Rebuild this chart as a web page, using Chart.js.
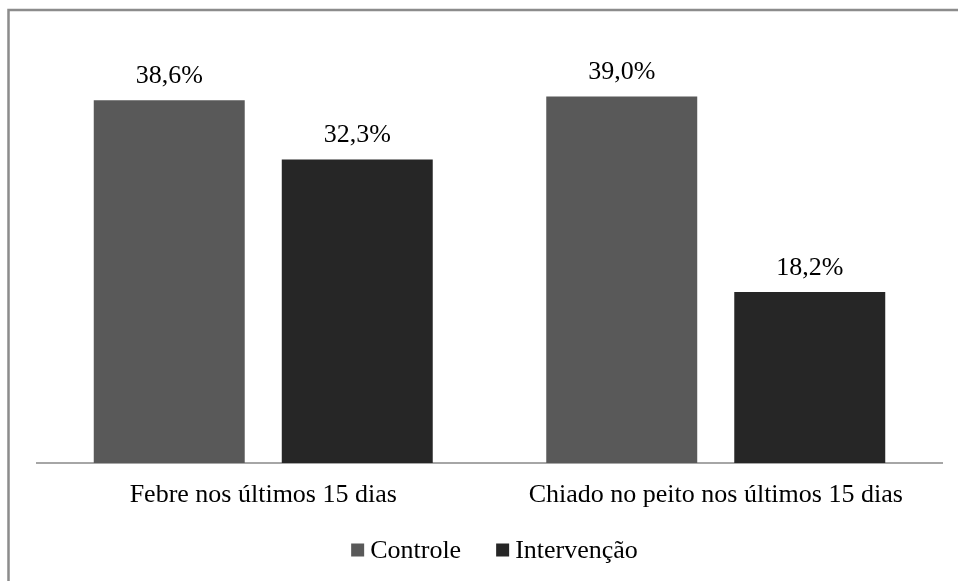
<!DOCTYPE html>
<html>
<head>
<meta charset="utf-8">
<script src="https://cdn.jsdelivr.net/npm/chart.js@4.4.1/dist/chart.umd.min.js"></script>
<style>
  html, body { margin: 0; padding: 0; background: #fff; }
  #wrap { position: relative; width: 958px; height: 581px; }
</style>
</head>
<body>
<div id="wrap"><canvas id="chart" width="958" height="581"></canvas></div>
<script>
const categories = ['Febre nos últimos 15 dias', 'Chiado no peito nos últimos 15 dias'];
const controle = [38.6, 39.0];
const intervencao = [32.3, 18.2];
const seriesNames = ['Controle', 'Intervenção'];
const seriesColors = ['#595959', '#262626'];

const FONT = '"Liberation Serif", "Times New Roman", serif';

// outer frame (top and left edge only, like the source)
const framePlugin = {
  id: 'frame',
  beforeDraw(chart) {
    const ctx = chart.ctx;
    ctx.save();
    ctx.strokeStyle = '#8c8c8c';
    ctx.lineWidth = 2.5;
    ctx.beginPath();
    ctx.moveTo(8.5, 581);
    ctx.lineTo(8.5, 10);
    ctx.lineTo(958, 10);
    ctx.stroke();
    ctx.restore();
  }
};

// value labels above bars
const valueLabels = {
  id: 'valueLabels',
  afterDatasetsDraw(chart) {
    const ctx = chart.ctx;
    ctx.save();
    ctx.font = '26px ' + FONT;
    ctx.fillStyle = '#000';
    ctx.textAlign = 'center';
    ctx.textBaseline = 'middle';
    chart.data.datasets.forEach((ds, i) => {
      chart.getDatasetMeta(i).data.forEach((bar, j) => {
        const txt = ds.data[j].toFixed(1).replace('.', ',') + '%';
        ctx.fillText(txt, bar.x, bar.y - 24);
      });
    });
    ctx.restore();
  }
};

// legend drawn by hand so the box/text spacing matches
const legendPlugin = {
  id: 'bottomLegend',
  afterDraw(chart) {
    const ctx = chart.ctx;
    const box = 13, gapText = 6, gapItem = 35;
    ctx.save();
    ctx.font = '26px ' + FONT;
    ctx.textBaseline = 'middle';
    const widths = chart.data.datasets.map(ds => ctx.measureText(ds.label).width);
    let total = 0;
    widths.forEach((w, i) => { total += box + gapText + w + (i ? gapItem : 0); });
    const area = chart.chartArea;
    let x = (area.left + area.right) / 2 - total / 2 + 5;
    const y = 550;
    chart.data.datasets.forEach((ds, i) => {
      ctx.fillStyle = ds.backgroundColor;
      ctx.fillRect(x, y - box / 2, box, box);
      ctx.fillStyle = '#000';
      ctx.fillText(ds.label, x + box + gapText, y + 1);
      x += box + gapText + widths[i] + gapItem;
    });
    ctx.restore();
  }
};

new Chart(document.getElementById('chart'), {
  type: 'bar',
  data: {
    labels: categories,
    datasets: [
      { label: seriesNames[0], data: controle, backgroundColor: seriesColors[0] },
      { label: seriesNames[1], data: intervencao, backgroundColor: seriesColors[1] }
    ]
  },
  options: {
    responsive: false,
    animation: false,
    events: [],
    categoryPercentage: 0.831,
    barPercentage: 0.803,
    layout: { padding: { left: 37, right: 16, top: 40, bottom: 58 } },
    plugins: {
      legend: { display: false },
      tooltip: { enabled: false }
    },
    scales: {
      x: {
        grid: { display: false, drawTicks: false },
        border: { display: true, color: '#a6a6a6', width: 2 },
        ticks: { color: '#000', font: { family: FONT, size: 26 }, padding: 17, maxRotation: 0 },
        afterFit(s) { s.height = 60; }
      },
      y: {
        display: false,
        min: 0,
        max: 45
      }
    }
  },
  plugins: [framePlugin, valueLabels, legendPlugin]
});
</script>
</body>
</html>
